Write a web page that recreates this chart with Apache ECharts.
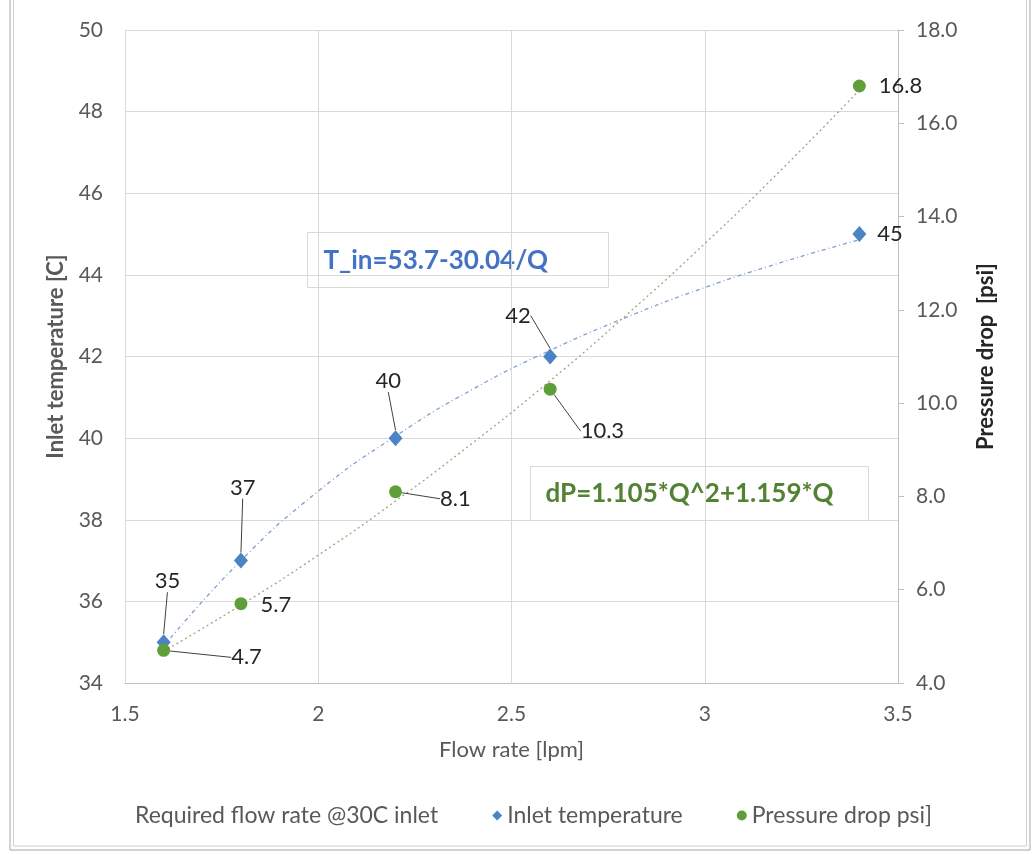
<!DOCTYPE html>
<html>
<head>
<meta charset="utf-8">
<script src="https://cdn.jsdelivr.net/npm/echarts@6/dist/echarts.min.js"></script>
<style>
  html, body { margin: 0; padding: 0; background: #fff; }
  #chart { width: 1034px; height: 854px; }
</style>
</head>
<body>
<div id="chart"></div>
<script>
// 数据
const flowRate = [1.6, 1.8, 2.2, 2.6, 3.4];
const inletTemp = [35, 37, 40, 42, 45];
const pressureDrop = [4.7, 5.7, 8.1, 10.3, 16.8];

// 趋势线
const trendQ = [1.6, 1.8, 2.0, 2.2, 2.4, 2.6, 2.8, 3.0, 3.2, 3.4];
const trendTemp = [34.9, 37.0, 38.7, 40.05, 41.2, 42.15, 42.97, 43.69, 44.31, 44.86];
const trendDP = [4.68, 5.67, 6.74, 7.9, 9.15, 10.48, 11.91, 13.42, 15.02, 16.71];

const xTicks = [1.5, 2, 2.5, 3, 3.5];

const FONT = 'Lato';
const BLUE = '#4a84c6';
const GREEN = '#5f9f3a';

// 标签偏移 (dx, dy) 和是否显示引导线
const tempLabelMove = [[-21, -61, true], [-23, -73, true], [-32, -57, true], [-57, -41, true], [6, 0, false]];
const dpLabelMove = [[56, 7, true], [8, 1, false], [33, 7, true], [19, 42, true], [8, 0, false]];

function makeData(ys, moves) {
  return flowRate.map((q, i) => ({
    value: [q, ys[i]],
    labelLine: { show: moves[i][2] }
  }));
}

const myChart = echarts.init(document.getElementById('chart'), null, { renderer: 'canvas' });

const labelStyle = {
  show: true,
  position: 'right',
  distance: 5,
  fontFamily: FONT,
  fontSize: 22,
  color: '#262626',
  formatter: (p) => String(p.value[1])
};
const leader = {
  show: true,
  lineStyle: { color: '#404040', width: 1 }
};

let option = {
  animation: false,
  textStyle: { fontFamily: FONT },
  grid: { left: 125, right: 136, top: 30, bottom: 171 },
  legend: {
    data: [
      { name: 'Required flow rate @30C inlet', icon: 'none' },
      { name: 'Inlet temperature', icon: 'diamond' },
      { name: 'Pressure drop psi]', icon: 'circle' }
    ],
    left: 115,
    top: 799,
    itemGap: 54,
    itemWidth: 10,
    itemHeight: 10,
    textStyle: { fontFamily: FONT, fontSize: 23, color: '#595959' }
  },
  xAxis: {
    type: 'value',
    min: 1.5,
    max: 3.5,
    interval: 0.5,
    name: 'Flow rate [lpm]',
    nameLocation: 'middle',
    nameGap: 56,
    nameTextStyle: { fontSize: 22, color: '#595959' },
    axisLine: { show: true, onZero: false, lineStyle: { color: '#bfbfbf' } },
    axisTick: { show: false },
    axisLabel: {
      fontSize: 21, color: '#595959', margin: 21,
      formatter: (v) => xTicks.includes(v) ? String(v) : ''
    },
    splitLine: { show: true, lineStyle: { color: '#d9d9d9' } }
  },
  yAxis: [
    {
      type: 'value',
      min: 34,
      max: 50,
      interval: 2,
      name: 'Inlet temperature [C]',
      nameLocation: 'middle',
      nameGap: 58,
      nameTextStyle: { fontSize: 22, color: '#595959', fontWeight: 'bold' },
      axisLine: { show: false },
      axisTick: { show: false },
      axisLabel: { fontSize: 21, color: '#595959', margin: 22 },
      splitLine: { show: true, lineStyle: { color: '#d9d9d9' } }
    },
    {
      type: 'value',
      min: 4,
      max: 18,
      interval: 2,
      position: 'right',
      name: 'Pressure drop  [psi]',
      nameLocation: 'middle',
      nameGap: 77,
      nameRotate: 90,
      nameTextStyle: { fontSize: 22, color: '#262626', fontWeight: 'bold' },
      axisLine: { show: true, lineStyle: { color: '#bfbfbf' } },
      axisTick: { show: true, length: 6, lineStyle: { color: '#bfbfbf' } },
      axisLabel: { fontSize: 21, color: '#595959', margin: 18, formatter: (v) => v.toFixed(1) },
      splitLine: { show: false }
    }
  ],
  series: [
    {
      name: 'Required flow rate @30C inlet',
      type: 'scatter',
      data: []
    },
    {
      name: 'Temp trend',
      type: 'line',
      yAxisIndex: 0,
      data: trendQ.map((q, i) => [q, trendTemp[i]]),
      smooth: true,
      symbol: 'none',
      silent: true,
      lineStyle: { color: '#7f9fcf', width: 1.3, type: [4, 3, 1, 3] },
      z: 1
    },
    {
      name: 'DP trend',
      type: 'line',
      yAxisIndex: 1,
      data: trendQ.map((q, i) => [q, trendDP[i]]),
      smooth: true,
      symbol: 'none',
      silent: true,
      lineStyle: { color: '#a0a47e', width: 1.3, type: [2, 3] },
      z: 1
    },
    {
      name: 'Inlet temperature',
      type: 'scatter',
      yAxisIndex: 0,
      symbol: 'diamond',
      symbolSize: [14, 16],
      itemStyle: { color: BLUE, opacity: 1 },
      data: makeData(inletTemp, tempLabelMove),
      label: labelStyle,
      labelLine: leader,
      labelLayout: (p) => ({ dx: tempLabelMove[p.dataIndex][0], dy: tempLabelMove[p.dataIndex][1] }),
      z: 3
    },
    {
      name: 'Pressure drop psi]',
      type: 'scatter',
      yAxisIndex: 1,
      symbol: 'circle',
      symbolSize: 13,
      itemStyle: { color: GREEN, opacity: 1 },
      data: makeData(pressureDrop, dpLabelMove),
      label: labelStyle,
      labelLine: leader,
      labelLayout: (p) => ({ dx: dpLabelMove[p.dataIndex][0], dy: dpLabelMove[p.dataIndex][1] }),
      z: 3
    }
  ],
  graphic: [
    // 外框
    { type: 'rect', shape: { x: 10, y: -10, width: 1020, height: 860 }, style: { fill: 'none', stroke: '#a6a6a6', lineWidth: 1 }, silent: true },
    { type: 'rect', shape: { x: 13.5, y: -10, width: 1013, height: 856 }, style: { fill: 'none', stroke: '#d0d0d0', lineWidth: 1 }, silent: true },
    // 公式框
    {
      type: 'group', left: 307, top: 232,
      children: [
        { type: 'rect', shape: { x: 0, y: 0, width: 301, height: 55 }, style: { fill: '#fff', stroke: '#d9d9d9', lineWidth: 1 } },
        { type: 'text', x: 16, y: 28, style: { text: 'T_in=53.7-30.04/Q', fill: '#4472c4', font: 'bold 26px Lato', verticalAlign: 'middle' } }
      ]
    },
    {
      type: 'group', left: 530, top: 466,
      children: [
        { type: 'rect', shape: { x: 0, y: 0, width: 338, height: 54 }, style: { fill: '#fff', stroke: '#d9d9d9', lineWidth: 1 } },
        { type: 'text', x: 15, y: 27, style: { text: 'dP=1.105*Q^2+1.159*Q', fill: '#548235', font: 'bold 26px Lato', verticalAlign: 'middle' } }
      ]
    }
  ]
};

myChart.setOption(option);
</script>
</body>
</html>
